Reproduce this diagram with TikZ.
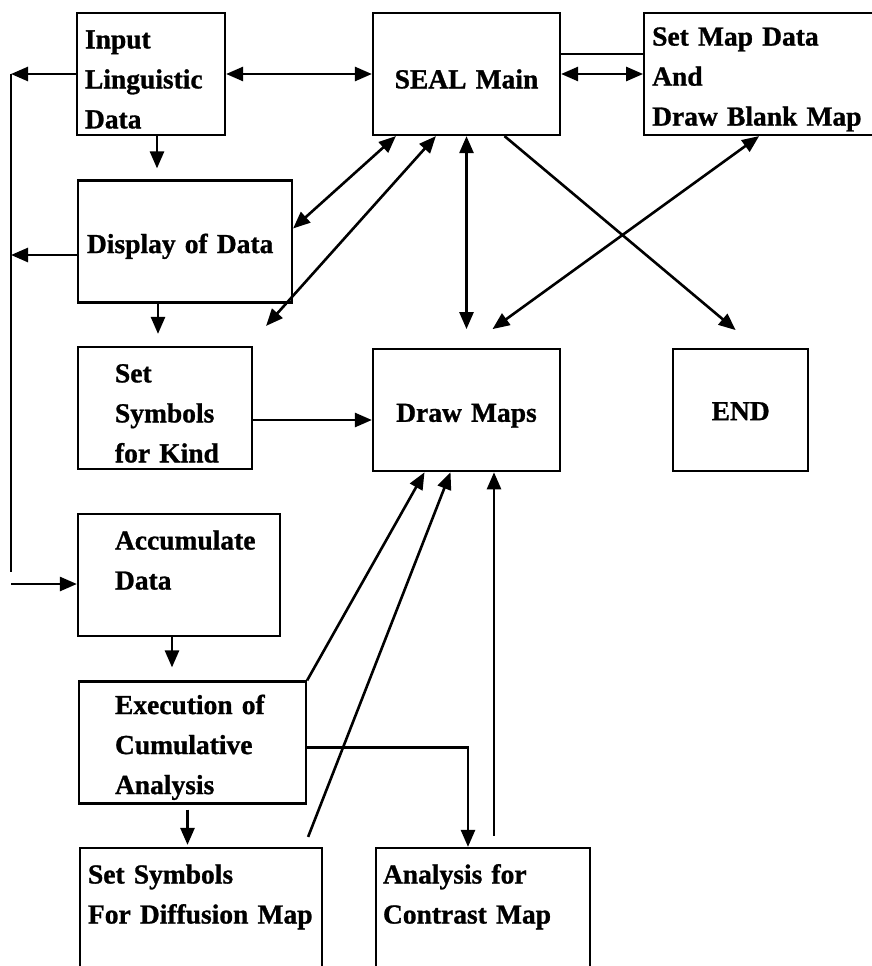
\documentclass[tikz,border=0pt]{standalone}
\usepackage{fontspec}
\setmainfont{Liberation Serif}[BoldFeatures = {FakeBold = 1}]
\usetikzlibrary{arrows.meta, calc, positioning}
\tikzset{> = { Triangle[length = 17pt, width = 14pt] }}

\begin{document}
\begin{tikzpicture}[x = 1pt, y = -1pt, line width = 2.6pt,
		proc/.style = { draw, line width = 2.2pt, minimum height = 122pt, inner sep = 0pt, text height = 29pt, align = left, font = \bfseries\fontsize{27.5}{40}\selectfont },
		textindent/.style = { execute at begin node = {\leftskip = #1} }]
		\useasboundingbox (0,0) rectangle (871,966);

		\node [proc, text width = 148pt, textindent = 8pt] (input) at (151,74) {Input\\Linguistic\\Data};
		\node [proc, text width = 187pt, align = center]   (main) at (466.5,74) {SEAL Main};
		\node [proc, text width = 240pt, textindent = 8pt, right = 82pt of main] (mapdata) {Set Map Data\\And\\Draw Blank Map};

		\node [proc, text width = 214pt, textindent = 9pt]  (display) at (185,241.5) {Display of Data};
		\node [proc, text width = 174pt, textindent = 37pt] (kind) at (165,408) {Set\\Symbols\\for Kind};
		\node [proc, text width = 187pt, align = center, below = 212pt of main] (draw) {Draw Maps};
		\node [proc, text width = 135pt, align = center, text height = 20pt, right = 111pt of draw] (end) {END};

		\node [proc, text width = 202pt, textindent = 37pt] (accum) at (179,575) {Accumulate\\Data\\~};
		\node [proc, text width = 227pt, textindent = 36pt] (exec) at (192.5,742.5) {Execution of\\Cumulative\\Analysis};
		\node [proc, text width = 242pt, textindent = 8pt]  (diff) at (201,909) {Set Symbols\\For Diffusion Map\\~};
		\node [proc, text width = 214pt, textindent = 7pt]  (contrast) at (483,909) {Analysis for\\Contrast Map\\~};

		% return line on the left
		\coordinate (bustop) at (11,74);
		\coordinate (busmid) at (11,255);
		\coordinate (busend) at (11,572);
		\coordinate (busin)  at (11,584);

		\draw [->] (input.west) -- (bustop);
		\draw [->] (display.west |- busmid) -- (busmid);
		\draw (bustop) -- (busend);
		\draw [->] (busin) -- (busin -| accum.west);

		\draw [<->] (input.east) -- (main.west);
		\draw [<->] (main.east) -- (mapdata.west);
		\draw ([yshift = 20pt]main.east) -- ([yshift = 20pt]mapdata.west);

		\draw [->, shorten > = 11pt] ([xshift = 6pt]input.south) -- ([xshift = 6pt]input.south |- display.north);
		\draw [->, shorten > = 12pt] ([xshift = -27pt]display.south) -- ([xshift = -27pt]display.south |- kind.north);
		\draw [->, shorten > = 13pt] ([xshift = -7pt]accum.south) -- ([xshift = -7pt]accum.south |- exec.north);
		\draw [->, shorten < = 5pt, shorten > = 2pt] ([xshift = -5pt]exec.south) -- ([xshift = -5pt]exec.south |- diff.north);
		\draw [->] ([yshift = -5pt]exec.east) -| ([xshift = -15pt]contrast.north);

		\draw [<->] ([xshift = 24pt]main.south west) -- ([yshift = 13pt]display.east);
		\draw [<->] ([xshift = 64pt]main.south west) -- ([xshift = 13pt, yshift = 20pt]kind.north east);
		\draw [<->, shorten > = 19pt] (main.south) -- (draw.north);
		\draw [->] ([xshift = 38pt]main.south) -- ([xshift = -5pt, yshift = 18pt]end.north);
		\draw [<->] ([xshift = 116pt]mapdata.south west) -- ([xshift = 26pt, yshift = 19pt]draw.north);

		\draw [->] ([yshift = -12pt]kind.east) -- ([yshift = -12pt]kind.east -| draw.west);
		\draw [->] (exec.north east) -- ([xshift = -42pt]draw.south);
		\draw [->] ([xshift = -15pt, yshift = 10pt]diff.north east) -- ([xshift = -16pt]draw.south);
		\draw [->, shorten < = 11pt] ([xshift = 11pt]contrast.north) -- ([xshift = 11pt]contrast.north |- draw.south);
	\end{tikzpicture}
\end{document}
